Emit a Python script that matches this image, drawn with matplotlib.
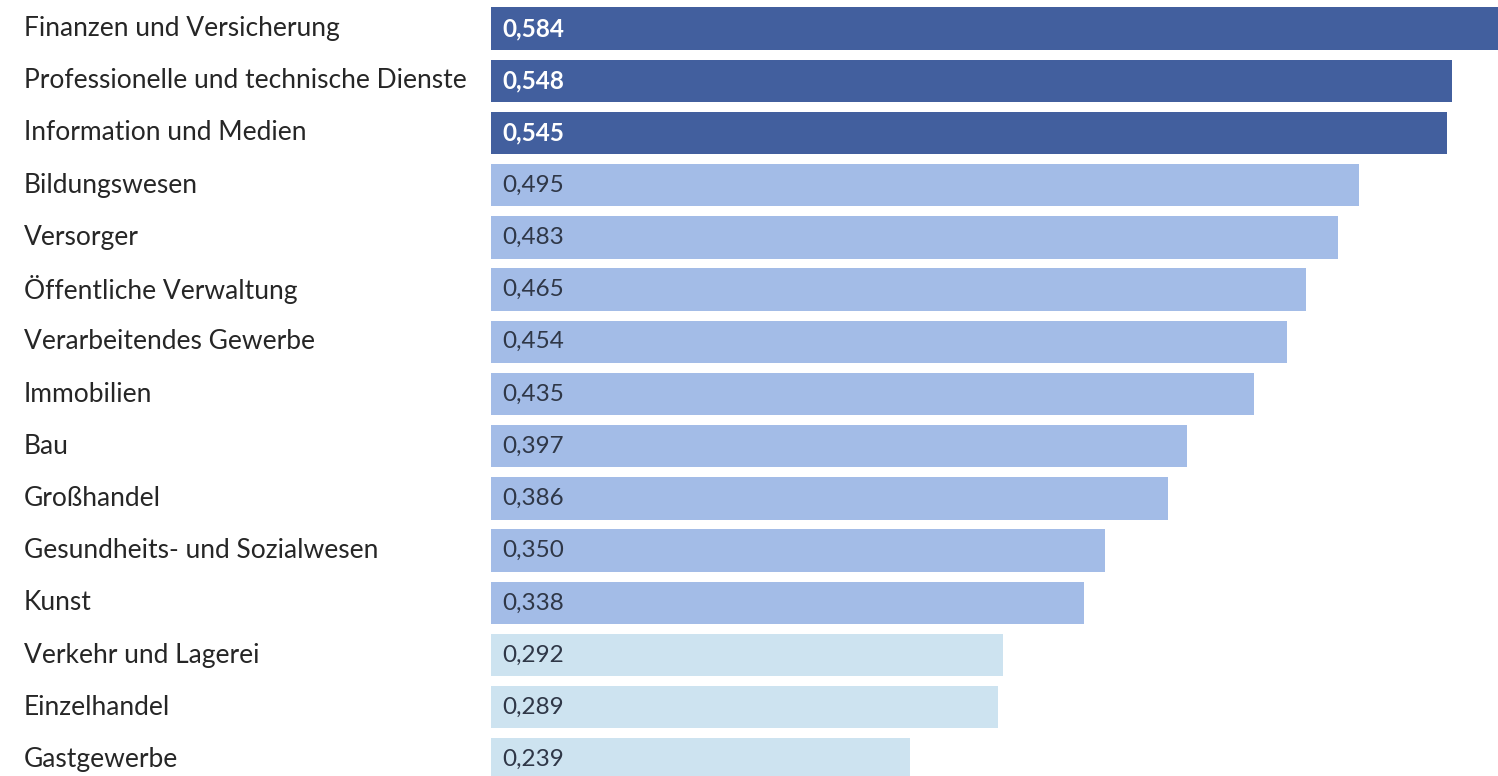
import matplotlib
matplotlib.use("Agg")
import matplotlib.pyplot as plt
from matplotlib.transforms import blended_transform_factory

categories = [
    "Finanzen und Versicherung",
    "Professionelle und technische Dienste",
    "Information und Medien",
    "Bildungswesen",
    "Versorger",
    "Öffentliche Verwaltung",
    "Verarbeitendes Gewerbe",
    "Immobilien",
    "Bau",
    "Großhandel",
    "Gesundheits- und Sozialwesen",
    "Kunst",
    "Verkehr und Lagerei",
    "Einzelhandel",
    "Gastgewerbe",
]
values = [0.584, 0.548, 0.545, 0.495, 0.483, 0.465, 0.454, 0.435,
          0.397, 0.386, 0.350, 0.338, 0.292, 0.289, 0.239]
groups = ["high"] * 3 + ["mid"] * 9 + ["low"] * 3

palette = {"high": "#425f9e", "mid": "#a3bce7", "low": "#cde3f0"}
text_colors = {"high": "#ffffff", "mid": "#2f3747", "low": "#2f3747"}

plt.rcParams["font.family"] = ["Lato", "DejaVu Sans"]

W, H = 1498, 776
fig = plt.figure(figsize=(W / 100, H / 100), dpi=100)
left = 491 / W
ax = fig.add_axes([left, 0, 1 - left, 1])

ypos = list(range(len(values)))
ax.barh(ypos, values, height=0.81,
        color=[palette[g] for g in groups])
ax.set_xlim(0, 0.5742)
ax.set_ylim(14.316, -0.546)
ax.axis("off")

label_tf = blended_transform_factory(fig.transFigure, ax.transData)

for y, v, g, name in zip(ypos, values, groups, categories):
    ax.text(0.0063, y, f"{v:.3f}".replace(".", ","), va="center", ha="left",
            fontsize=17.5, color=text_colors[g],
            fontweight="bold" if g == "high" else "normal")
    ax.text(24 / W, y, name, transform=label_tf, clip_on=False,
            fontsize=19, color="#262626", va="center", ha="left")

fig.savefig("out.png", dpi=100)
